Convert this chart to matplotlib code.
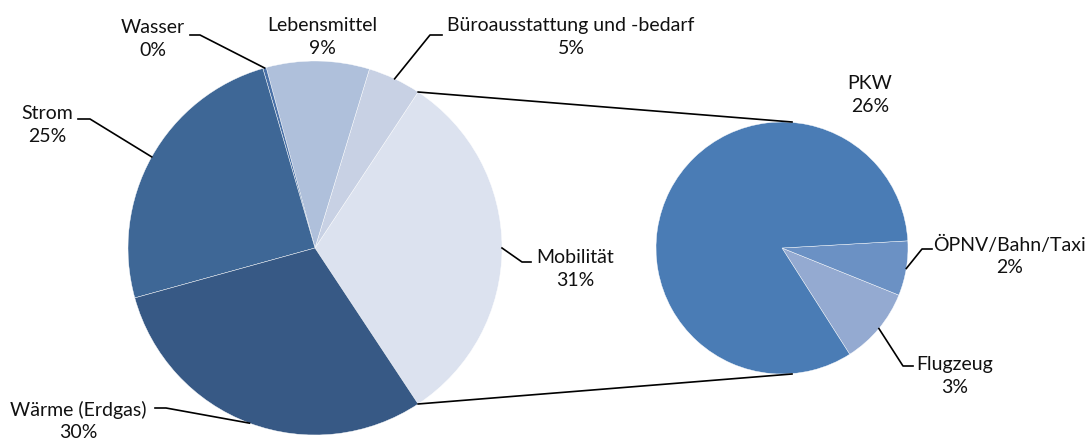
import numpy as np
import matplotlib
matplotlib.use("Agg")
import matplotlib.pyplot as plt

plt.rcParams['font.family'] = ['Lato', 'DejaVu Sans']

# Daten
haupt_namen = ["Mobilität", "Büroausstattung und -bedarf", "Lebensmittel", "Wasser", "Strom", "Wärme (Erdgas)"]
haupt_werte = [31.4, 4.6, 8.9, 0.3, 24.8, 30.0]
haupt_farben = ["#dce2ef", "#c8d1e4", "#afc0db", "#4b72a8", "#3e6796", "#375985"]

mob_namen = ["Flugzeug", "ÖPNV/Bahn/Taxi", "PKW"]
mob_werte = [3.1, 2.2, 26.1]
mob_farben = ["#94aad1", "#6b91c4", "#4a7cb5"]

H = 440
fig = plt.figure(figsize=(10.88, 4.4), dpi=100)
ax = fig.add_axes([0, 0, 1, 1])
ax.set_xlim(0, 1088)
ax.set_ylim(0, H)
ax.set_aspect('equal')
ax.axis('off')

c1 = (315, H - 248)
r1 = 187
c2 = (782, H - 248)
r2 = 126

start1 = -360 * haupt_werte[0] / sum(haupt_werte) / 2
w1, _ = ax.pie(haupt_werte, colors=haupt_farben, startangle=start1, counterclock=True,
               center=c1, radius=r1, frame=True,
               wedgeprops=dict(edgecolor="white", linewidth=0.3))
start2 = -57.5
w2, _ = ax.pie(mob_werte, colors=mob_farben, startangle=start2, counterclock=True,
               center=c2, radius=r2, frame=True,
               wedgeprops=dict(edgecolor="white", linewidth=0.3))
ax.set_xlim(0, 1088)
ax.set_ylim(0, H)
ax.axis('off')

def rand(c, r, ang):
    a = np.deg2rad(ang)
    return c[0] + r * np.cos(a), c[1] + r * np.sin(a)

# Verbindungslinien
m = w1[0]
for ang, ziel in [(m.theta2, c2[1] + r2), (m.theta1, c2[1] - r2)]:
    x0, y0 = rand(c1, r1, ang)
    ax.plot([x0, c2[0] + 10], [y0, ziel], color="black", lw=1.2)

fs = 14

def label(text, val, tx, ty, knick=None, wedge=None, c=None, r=None):
    ax.text(tx, H - ty, f"{text}\n{val:.0f}%", ha="center", va="center",
            fontsize=fs, linespacing=1.4, color="#111111")
    if knick is not None:
        mid = (wedge.theta1 + wedge.theta2) / 2
        x0, y0 = rand(c, r, mid)
        xs = [x0, knick[0][0], knick[1][0]]
        ys = [y0, H - knick[0][1], H - knick[1][1]]
        ax.plot(xs, ys, color="black", lw=1.2)

label(haupt_namen[0], haupt_werte[0], 575, 269, [(522, 262), (531, 262)], w1[0], c1, r1)
label(haupt_namen[1], haupt_werte[1], 571, 37, [(430, 35), (442, 35)], w1[1], c1, r1)
label(haupt_namen[2], haupt_werte[2], 322, 37)
label(haupt_namen[3], haupt_werte[3], 153, 39, [(200, 35), (190, 35)], w1[3], c1, r1)
label(haupt_namen[4], haupt_werte[4], 47, 125, [(90, 119), (78, 119)], w1[4], c1, r1)
label(haupt_namen[5], haupt_werte[5], 78, 421, [(166, 408), (155, 408)], w1[5], c1, r1)

label(mob_namen[2], mob_werte[2], 870, 95)
label(mob_namen[1], mob_werte[1], 1010, 256, [(922, 249), (932, 249)], w2[1], c2, r2)
label(mob_namen[0], mob_werte[0], 955, 376, [(903, 366), (913, 366)], w2[0], c2, r2)

fig.savefig("out.png", dpi=100)
